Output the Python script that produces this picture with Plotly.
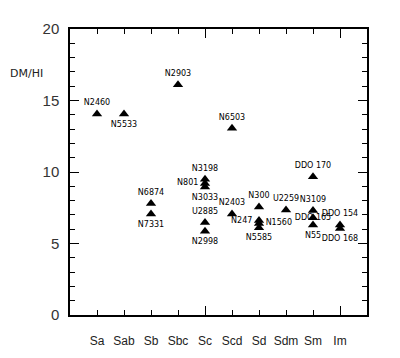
import plotly.graph_objects as go

categories = ["Sa", "Sab", "Sb", "Sbc", "Sc", "Scd", "Sd", "Sdm", "Sm", "Im"]
cat_pos = list(range(1, len(categories) + 1))

galaxies = ["N2460", "N5533", "N6874", "N7331", "N2903", "N3198", "N801", "N3033",
            "U2885", "N2998", "N6503", "N2403", "N300", "N247", "N1560", "N5585",
            "U2259", "DDO 170", "N3109", "DDO 165", "N55", "DDO 154", "DDO 168"]
gal_type = ["Sa", "Sab", "Sb", "Sb", "Sbc", "Sc", "Sc", "Sc",
            "Sc", "Sc", "Scd", "Scd", "Sd", "Sd", "Sd", "Sd",
            "Sdm", "Sm", "Sm", "Sm", "Sm", "Im", "Im"]
dm_hi = [14.05, 14.05, 7.8, 7.07, 16.1, 9.5, 9.2, 8.95,
         6.46, 5.85, 13.06, 7.07, 7.55, 6.6, 6.4, 6.1,
         7.35, 9.66, 7.3, 6.8, 6.3, 6.3, 6.05]
label_pos = ["top center", "bottom center", "top center", "bottom center", "top center",
             "top center", "middle left", "bottom center", "top center", "bottom center",
             "top center", "top center", "top center", "middle left", "middle right",
             "bottom center", "top center", "top center", "top center", "middle center",
             "bottom center", "top center", "bottom center"]

xvals = [cat_pos[categories.index(t)] for t in gal_type]

fig = go.Figure()
fig.add_trace(go.Scatter(
    x=xvals, y=dm_hi, mode="markers+text",
    marker=dict(symbol="triangle-up", size=9, color="black"),
    text=galaxies, textposition=label_pos,
    textfont=dict(family="DejaVu Sans", size=8, color="black"),
    cliponaxis=False, showlegend=False,
))
# invisible trace on overlay axis for long major ticks
fig.add_trace(go.Scatter(x=[0], y=[0], xaxis="x2", mode="markers",
                         marker=dict(opacity=0), showlegend=False, hoverinfo="skip"))

fig.update_layout(
    width=400, height=358,
    margin=dict(l=62, r=41, t=13, b=51),
    paper_bgcolor="white", plot_bgcolor="white",
    xaxis=dict(range=[0, 11], tickvals=cat_pos, ticktext=categories,
               ticks="inside", ticklen=5, tickwidth=1.2, tickcolor="black",
               showline=True, linecolor="black", linewidth=1.5, mirror="ticks",
               showgrid=False, zeroline=False, ticklabelstandoff=14,
               tickfont=dict(family="Liberation Sans", size=12, color="#222")),
    xaxis2=dict(overlaying="x", matches="x", range=[0, 11], tickvals=[5, 10],
                ticks="inside", ticklen=9, tickwidth=1.2, tickcolor="black",
                showticklabels=False, showline=False, mirror="ticks",
                showgrid=False, zeroline=False, side="bottom"),
    yaxis=dict(range=[0, 20], tickvals=[0, 5, 10, 15, 20],
               ticks="inside", ticklen=9, tickwidth=1.2, tickcolor="black",
               minor=dict(dtick=1, ticks="inside", ticklen=5, tickcolor="black", tickwidth=1.2),
               showline=True, linecolor="black", linewidth=1.5, mirror="ticks",
               showgrid=False, zeroline=False, ticklabelstandoff=6,
               tickfont=dict(family="Liberation Sans", size=15, color="#333")),
    annotations=[dict(text="DM/HI", xref="paper", yref="paper", x=-0.21, y=0.843,
                      xanchor="left", yanchor="middle", showarrow=False,
                      font=dict(family="DejaVu Sans", size=11, color="#222"))],
)

fig.write_html("out.html")
